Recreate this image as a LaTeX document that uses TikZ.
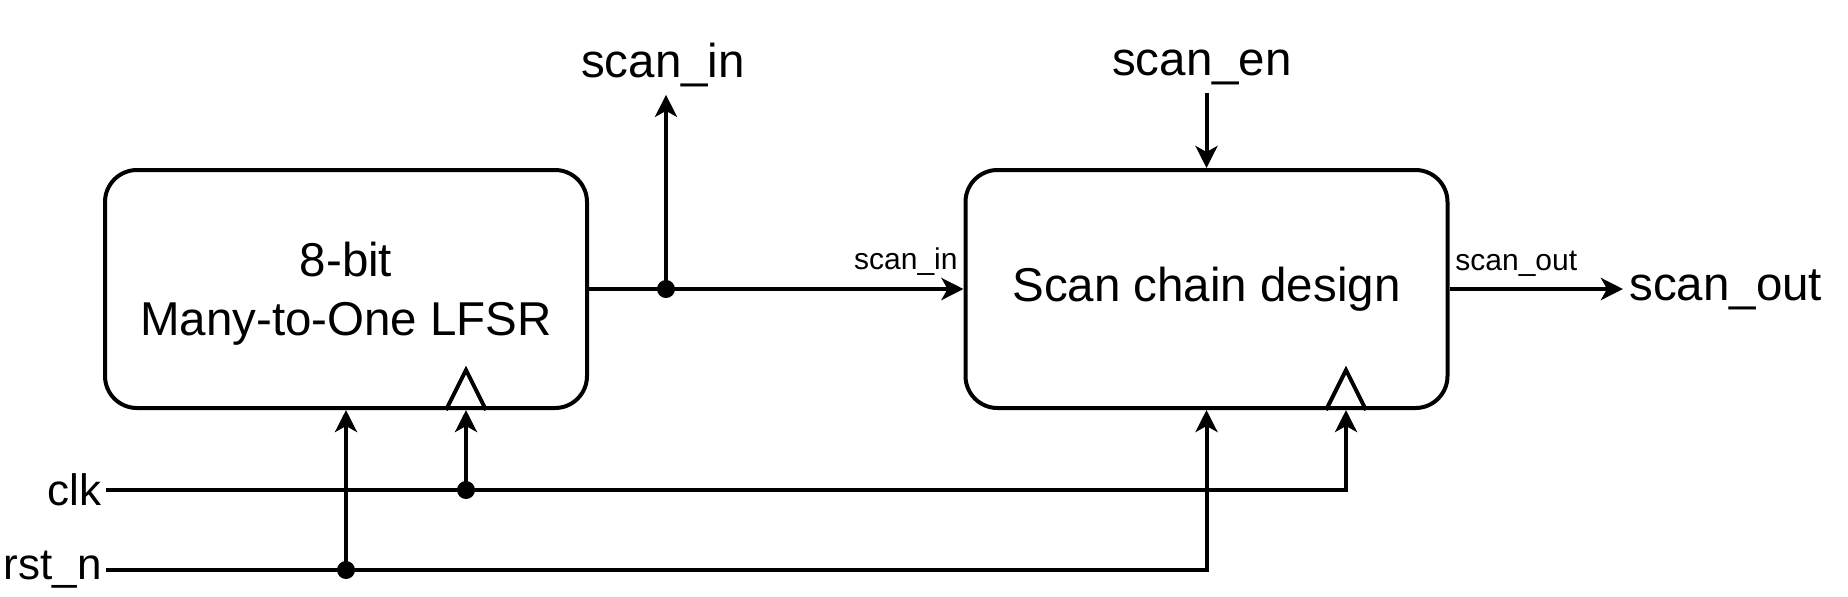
\documentclass[tikz,border=0pt]{standalone}
\usepackage{fontspec}
\setmainfont{Liberation Sans}
\usetikzlibrary{arrows.meta, positioning, calc}

\begin{document}
\begin{tikzpicture}[
    x=0.5pt, y=-0.5pt,
    block/.style={rectangle, draw=black, line width=2pt, rounded corners=16pt, minimum width=241pt, minimum height=119pt, align=center, font=\fontsize{23.75}{29.5}\selectfont},
    arrow/.style={line width=2pt, -{Stealth[length=11pt, width=11pt, inset=3pt]}},
    wire/.style={line width=2pt},
    port/.style={font=\fontsize{23.75}{28}\selectfont, inner sep=4pt},
    pinlbl/.style={font=\fontsize{15}{18}\selectfont, inner sep=0pt},
    dot/.style={circle, fill=black, inner sep=0pt, minimum size=9pt}
]
    \useasboundingbox (0,0) rectangle (1848,596);

    % Blocks
    \node (lfsr) [block] at (346,289) {\rule{0pt}{22pt}8-bit\\Many-to-One LFSR};
    \node (chain) [block] at (1206.5,289) {Scan chain design};

    % Clock triangles
    \coordinate (lfsrclk) at ($(lfsr.south)+(120,0)$);
    \coordinate (chainclk) at ($(chain.south)+(139.5,0)$);
    \draw [wire] ($(lfsrclk)+(-20,0)$) -- ++(20,-40) -- ++(20,40);
    \draw [wire] ($(chainclk)+(-20,0)$) -- ++(20,-40) -- ++(20,40);

    % Ports
    \node (scanin) [port, anchor=base] at (663,77) {scan\_in};
    \node (scanen) [port, anchor=base] at (1202,75) {scan\_en};
    \node (scanout) [port, anchor=west, inner xsep=3pt] at (1623,290) {scan\_out};
    \node (clk) [port, anchor=east, inner xsep=2pt, font=\fontsize{22}{26}\selectfont] at (106,490) {clk};
    \node (rst) [port, anchor=east, inner xsep=2pt, font=\fontsize{22}{26}\selectfont] at (106,570) {rst\_n};

    % Pin labels
    \node (inlbl) [pinlbl, anchor=base east] at (958,269) {scan\_in};
    \node (outlbl) [pinlbl, anchor=base west] at (1455,270) {scan\_out};

    % Flows
    \coordinate (jin) at (666,289);
    \draw [arrow] (lfsr.east) -- (chain.west);
    \draw [arrow] (jin) -- (jin |- scanin.south);
    \draw [arrow] (scanen.south -| chain.north) -- (chain.north);
    \draw [arrow] (chain.east) -- (chain.east -| scanout.west);

    \coordinate (jclk) at (lfsrclk |- clk.east);
    \coordinate (jrst) at (lfsr.south |- rst.east);
    \draw [arrow] (clk.east) -| (chainclk);
    \draw [arrow] (rst.east) -| (chain.south);
    \draw [arrow] (jclk) -- (lfsrclk);
    \draw [arrow] (jrst) -- (lfsr.south);

    % Junctions
    \node (din) [dot] at (jin) {};
    \node (dclk) [dot] at (jclk) {};
    \node (drst) [dot] at (jrst) {};
\end{tikzpicture}
\end{document}
